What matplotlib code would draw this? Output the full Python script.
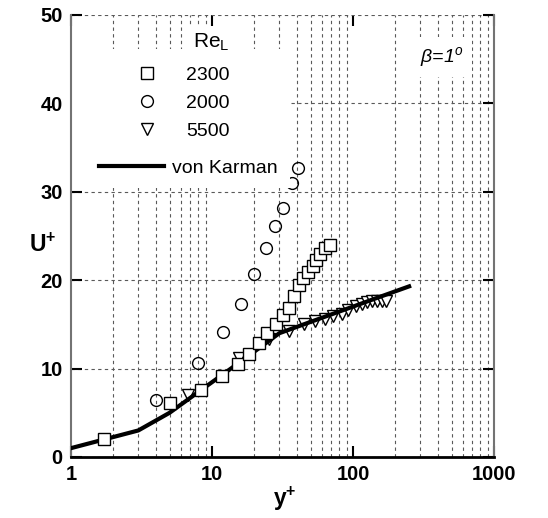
import matplotlib
matplotlib.use('Agg')
import matplotlib.pyplot as plt
from matplotlib.lines import Line2D
from matplotlib.patches import Rectangle
from matplotlib.ticker import FixedLocator, FixedFormatter, LogLocator, NullFormatter

plt.rcParams['font.family'] = ['Liberation Sans', 'DejaVu Sans']
plt.rcParams['mathtext.fontset'] = 'custom'
plt.rcParams['mathtext.rm'] = 'Liberation Sans'
plt.rcParams['mathtext.it'] = 'Liberation Sans:italic'
plt.rcParams['mathtext.bf'] = 'Liberation Sans:bold'

# Re_L = 2300
sq_y = [1.7, 5.0, 8.3, 11.7, 15.2, 18.4, 21.6, 24.6, 28.4, 31.7, 35.0, 38.2,
        41.4, 44.0, 48.0, 52.0, 55.0, 58.0, 63.0, 69.0]
sq_u = [2.0, 6.1, 7.6, 9.2, 10.5, 11.7, 12.9, 14.0, 15.0, 16.1, 16.8, 18.2,
        19.4, 20.2, 20.9, 21.6, 22.3, 23.0, 23.6, 24.0]

# Re_L = 2000
ci_y = [4.0, 8.0, 11.9, 16.0, 20.0, 24.0, 28.0, 31.7, 36.7, 40.5]
ci_u = [6.45, 10.6, 14.1, 17.3, 20.7, 23.6, 26.1, 28.2, 31.0, 32.7]

# Re_L = 5500
tr_y = [6.8, 15.6, 25.5, 35.0, 44.9, 53.8, 63.3, 72.5, 83.2, 92.7, 105, 115,
        125, 136, 147, 160, 171]
tr_u = [7.0, 11.2, 13.3, 14.2, 15.0, 15.4, 15.6, 15.95, 16.2, 16.6, 17.1, 17.3,
        17.5, 17.6, 17.6, 17.6, 17.7]

# von Karman law of the wall
vk_y = [1, 3, 5, 8, 12, 20, 30, 50, 100, 150, 250]
vk_u = [1.0, 3.0, 5.0, 7.35, 9.37, 11.93, 14.0, 15.28, 17.01, 18.03, 19.30]

fig = plt.figure(figsize=(5.48, 5.18), dpi=100)
ax = fig.add_axes([0.1296, 0.1178, 0.7719, 0.8533])

ms = 8.5
ax.plot(ci_y, ci_u, 'o', ms=ms, mfc='none', mec='black', mew=1.0, zorder=2)
ax.plot(tr_y, tr_u, 'v', ms=ms, mfc='white', mec='black', mew=1.0, zorder=3)
ax.plot(vk_y, vk_u, '-', color='black', lw=3.0, zorder=4)
ax.plot(sq_y, sq_u, 's', ms=ms, mfc='white', mec='black', mew=1.0, zorder=5)

ax.set_xscale('log')
ax.set_xlim(1, 1000)
ax.set_ylim(0, 50)

ax.xaxis.set_major_locator(FixedLocator([1, 10, 100, 1000]))
ax.xaxis.set_major_formatter(FixedFormatter(['1', '10', '100', '1000']))
ax.xaxis.set_minor_locator(LogLocator(base=10, subs=range(2, 10)))
ax.xaxis.set_minor_formatter(NullFormatter())
ax.set_yticks([0, 10, 20, 30, 40, 50])

ax.grid(which='minor', axis='x', ls=(0, (3, 3)), color='0.35', lw=0.8)
ax.grid(which='major', axis='y', ls=(0, (3, 3)), color='0.35', lw=0.8)
ax.set_axisbelow(True)

ax.tick_params(which='major', direction='in', length=8, width=1.5,
               top=True, right=True, labelsize=14.5, pad=6)
ax.tick_params(which='minor', length=0)
for lab in ax.get_xticklabels() + ax.get_yticklabels():
    lab.set_fontweight('bold')

ax.spines['top'].set_visible(False)
ax.spines['left'].set_color('0.45')
ax.spines['left'].set_linewidth(1.5)
ax.spines['right'].set_color('0.45')
ax.spines['right'].set_linewidth(1.5)
ax.spines['bottom'].set_color('black')
ax.spines['bottom'].set_linewidth(2.0)

ax.set_xlabel(r'y$^{\mathbf{+}}$', fontsize=16.5, fontweight='bold')
ax.set_ylabel(r'U$^{\mathbf{+}}$', fontsize=16.5, fontweight='bold',
              rotation=0, va='center')
ax.xaxis.set_label_coords(0.506, -0.062)
ax.yaxis.set_label_coords(-0.068, 0.48)

# white area behind the legend
ax.add_patch(Rectangle((0, 0.609), 0.518, 0.315, transform=ax.transAxes,
                       facecolor='white', edgecolor='none', zorder=2.5))

mk_handles = [
    Line2D([], [], ls='none', marker='s', ms=ms, mfc='white', mec='black', mew=1.0),
    Line2D([], [], ls='none', marker='o', ms=ms, mfc='white', mec='black', mew=1.0),
    Line2D([], [], ls='none', marker='v', ms=ms, mfc='white', mec='black', mew=1.0),
]
leg1 = ax.legend(mk_handles, ['2300', '2000', '5500'], fontsize=14,
                 loc='upper left', bbox_to_anchor=(0.102, 0.914), frameon=False,
                 handlelength=2.0, handletextpad=1.0, labelspacing=0.53,
                 borderpad=0.2)
leg1.set_zorder(6)
ax.add_artist(leg1)

vk_handle = Line2D([], [], color='black', lw=3.0)
leg2 = ax.legend([vk_handle], ['von Karman'], fontsize=14, loc='upper left',
                 bbox_to_anchor=(0.033, 0.704), frameon=False,
                 handlelength=3.35, handletextpad=0.4, borderpad=0.2)
leg2.set_zorder(6)

ax.text(0.331, 0.939, 'Re$_{\\mathrm{L}}$', transform=ax.transAxes, fontsize=15,
        ha='center', va='center', zorder=6,
        bbox=dict(facecolor='white', edgecolor='none', pad=3))

ax.text(0.877, 0.905, 'β=1$^o$', transform=ax.transAxes, fontsize=14,
        style='italic', ha='center', va='center', zorder=6,
        bbox=dict(facecolor='white', edgecolor='none', pad=6))

fig.savefig('out.png', dpi=100)
